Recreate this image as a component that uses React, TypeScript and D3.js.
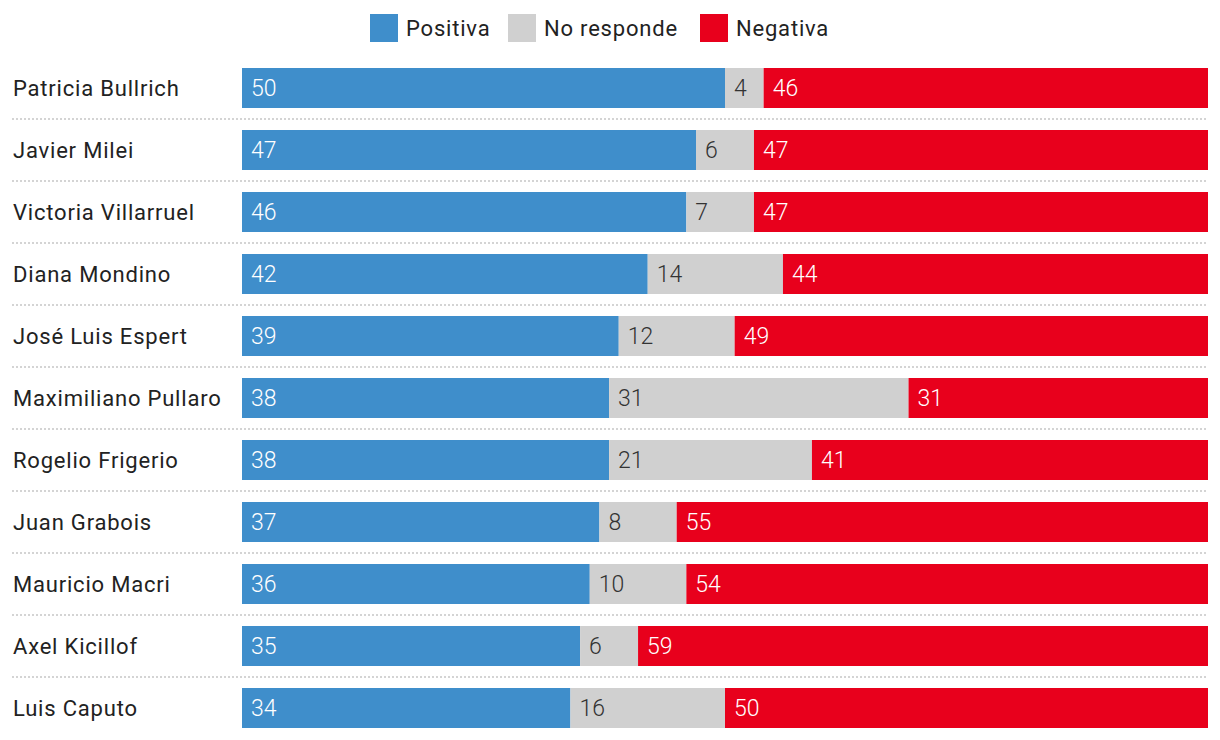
import React from 'react';
import * as d3 from 'd3';

const names = [
  'Patricia Bullrich',
  'Javier Milei',
  'Victoria Villarruel',
  'Diana Mondino',
  'José Luis Espert',
  'Maximiliano Pullaro',
  'Rogelio Frigerio',
  'Juan Grabois',
  'Mauricio Macri',
  'Axel Kicillof',
  'Luis Caputo',
];
const positiva = [50, 47, 46, 42, 39, 38, 38, 37, 36, 35, 34];
const noResponde = [4, 6, 7, 14, 12, 31, 21, 8, 10, 6, 16];
const negativa = [46, 47, 47, 44, 49, 31, 41, 55, 54, 59, 50];

const seriesNames = ['Positiva', 'No responde', 'Negativa'];
const seriesColors = ['#3f8ecb', '#d0d0d0', '#e8001c'];
const labelColors = ['#ffffff', '#333333', '#ffffff'];

const W = 1220;
const H = 740;
const FONT = 'Roboto, "Open Sans", sans-serif';

export default function App() {
  const x = d3.scaleLinear().domain([0, 100]).range([242, 1208]);
  const y = d3
    .scaleBand<string>()
    .domain(names)
    .range([68, 728])
    .paddingInner(22 / 62)
    .paddingOuter(0);

  const rows = names.map((name, i) => ({
    name,
    values: [positiva[i], noResponde[i], negativa[i]],
  }));
  const stack = d3
    .stack<{ name: string; values: number[] }, number>()
    .keys([0, 1, 2])
    .value((d, k) => d.values[k]);
  const layers = stack(rows);

  // legend layout: square, gap, text
  const legendX = [370, 508, 700];

  return (
    <svg
      width={W}
      height={H}
      style={{ position: 'absolute', left: 0, top: 0, background: '#fff' }}
      fontFamily={FONT}
    >
      {/* legend */}
      {seriesNames.map((s, i) => (
        <g key={s} transform={`translate(${legendX[i]},14)`}>
          <rect width={28} height={28} fill={seriesColors[i]} />
          <text x={36} y={22} fontSize={22} letterSpacing={0.8} fill="#222">
            {s}
          </text>
        </g>
      ))}

      {/* separators */}
      {names.slice(0, -1).map((n) => {
        const yy = (y(n) || 0) + y.bandwidth() + 11;
        return (
          <line
            key={'sep' + n}
            x1={12}
            x2={1208}
            y1={yy}
            y2={yy}
            stroke="#d4d4d4"
            strokeWidth={2}
            strokeDasharray="2,2"
          />
        );
      })}

      {/* category labels */}
      {names.map((n) => (
        <text
          key={'lab' + n}
          x={13}
          y={(y(n) || 0) + y.bandwidth() / 2 + 8}
          fontSize={22}
          letterSpacing={0.8}
          fill="#222"
        >
          {n}
        </text>
      ))}

      {/* bars */}
      {layers.map((layer, li) => (
        <g key={'layer' + li}>
          {layer.map((seg, ri) => {
            const yy = y(rows[ri].name) || 0;
            const x0 = x(seg[0]);
            const x1 = x(seg[1]);
            return (
              <g key={ri}>
                <rect
                  x={x0}
                  y={yy}
                  width={x1 - x0}
                  height={y.bandwidth()}
                  fill={seriesColors[li]}
                />
                <text
                  x={x0 + 9}
                  y={yy + y.bandwidth() / 2 + 8}
                  fontSize={23}
                  fontWeight={300}
                  fill={labelColors[li]}
                >
                  {rows[ri].values[li]}
                </text>
              </g>
            );
          })}
        </g>
      ))}
    </svg>
  );
}
